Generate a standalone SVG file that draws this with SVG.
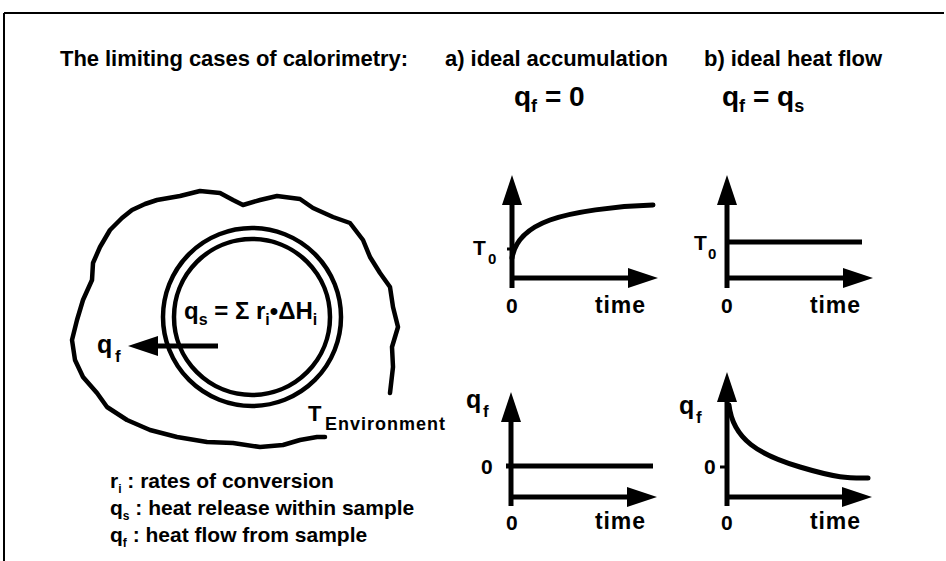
<svg xmlns="http://www.w3.org/2000/svg" width="946" height="561" viewBox="0 0 946 561">
<style>
text{font-family:"Liberation Sans",Arial,sans-serif;font-weight:bold;fill:#000}
.ax{stroke:#000;stroke-width:5;fill:none;marker-end:url(#ah)}
.crv{stroke:#000;stroke-width:5;fill:none;stroke-linecap:round}
.t22{font-size:22px}
</style>
<defs>
<marker id="ah" markerUnits="userSpaceOnUse" markerWidth="32" markerHeight="22" viewBox="0 0 32 22" refX="5" refY="11" orient="auto"><path d="M0,1 L30,11 L0,21 Z" fill="#000"/></marker>
</defs>
<rect width="946" height="561" fill="#fff"/>
<g id="frame" stroke="#000" stroke-width="2" fill="none">
<line x1="4" y1="13" x2="944" y2="13"/>
<line x1="4" y1="13" x2="4" y2="561"/>
</g>
<g id="header">
<text class="t22" x="60" y="66" textLength="348">The limiting cases of calorimetry:</text>
<text class="t22" x="445" y="66" textLength="223">a) ideal accumulation</text>
<text class="t22" x="704" y="66" textLength="178">b) ideal heat flow</text>
<text x="514" y="106" font-size="28">q<tspan dy="6" font-size="18">f</tspan><tspan dy="-6"> = 0</tspan></text>
<text x="722" y="106" font-size="28">q<tspan dy="6" font-size="18">f</tspan><tspan dy="-6"> = q</tspan><tspan dy="6" font-size="18">s</tspan></text>
</g>
<g id="sample">
<path d="M325,437 L317,437 L300,440 L283,445 L260,447 L233,443 L207,442 L177,437 L150,430 L127,420 L107,407 L97,393 L83,377 L75,360 L72,340 L77,320 L83,300 L92,280 L93,263 L100,247 L110,230 L122,218 L132,210 L145,204 L157,200 L180,196 L200,191 L220,193 L233,200 L243,205 L260,200 L277,196 L300,199 L313,208 L333,217 L350,223 L363,240 L370,257 L380,273 L390,287 L393,307 L398,327 L392,347 L393,367 L390,393" fill="none" stroke="#000" stroke-width="4.5" stroke-linejoin="round" stroke-linecap="round"/>
<circle cx="252" cy="317" r="89" fill="none" stroke="#000" stroke-width="4.5"/>
<circle cx="252" cy="317" r="78" fill="none" stroke="#000" stroke-width="4.5"/>
<text x="184" y="319" font-size="24">q<tspan dy="6" font-size="16">s</tspan><tspan dy="-6"> = Σ r</tspan><tspan dy="6" font-size="16">i</tspan><tspan dy="-6">•ΔH</tspan><tspan dy="6" font-size="16">i</tspan></text>
<text x="308" y="421" font-size="22">T</text>
<text x="325" y="430" font-size="18" textLength="120">Environment</text>
<text x="97" y="353" font-size="25">q</text>
<text x="115" y="362" font-size="17">f</text>
</g>
<g id="connectors">
<line class="ax" x1="218" y1="346" x2="153" y2="346"/>
</g>
<g id="legend">
<text x="110" y="488" font-size="21">r<tspan dy="5" font-size="12">i</tspan><tspan dy="-5"> : rates of conversion</tspan></text>
<text x="110" y="515" font-size="21">q<tspan dy="5" font-size="12">s</tspan><tspan dy="-5"> : heat release within sample</tspan></text>
<text x="110" y="542" font-size="21">q<tspan dy="5" font-size="12">f</tspan><tspan dy="-5"> : heat flow from sample</tspan></text>
</g>
<g id="plot-a">
<line class="ax" x1="512" y1="288" x2="512" y2="200"/>
<line class="ax" x1="510" y1="278" x2="633" y2="278"/>
<line x1="507" y1="249" x2="512" y2="249" stroke="#000" stroke-width="3"/>
<path class="crv" d="M512,258 C515,240 528,228 550,220 S615,206 653,205"/>
<text x="473" y="255" font-size="21">T</text>
<text x="488" y="264" font-size="15">0</text>
<text x="506" y="313" font-size="21">0</text>
<text x="595" y="313" font-size="23" textLength="50">time</text>
</g>
<g id="plot-b">
<line class="ax" x1="727" y1="288" x2="727" y2="200"/>
<line class="ax" x1="725" y1="278" x2="848" y2="278"/>
<line class="crv" x1="727" y1="242" x2="862" y2="242" style="stroke-linecap:butt"/>
<text x="694" y="250" font-size="21">T</text>
<text x="708" y="259" font-size="15">0</text>
<text x="721" y="313" font-size="21">0</text>
<text x="810" y="313" font-size="23" textLength="50">time</text>
</g>
<g id="plot-c">
<line class="ax" x1="511" y1="506" x2="511" y2="417"/>
<line class="ax" x1="509" y1="497" x2="632" y2="497"/>
<line class="crv" x1="506" y1="466" x2="653" y2="466" style="stroke-linecap:butt"/>
<text x="481" y="474" font-size="21">0</text>
<text x="466" y="408" font-size="25">q</text>
<text x="483" y="417" font-size="17">f</text>
<text x="506" y="530" font-size="21">0</text>
<text x="595" y="529" font-size="23" textLength="50">time</text>
</g>
<g id="plot-d">
<line class="ax" x1="727" y1="506" x2="727" y2="397"/>
<line class="ax" x1="725" y1="497" x2="847" y2="497"/>
<line x1="720" y1="467" x2="727" y2="467" stroke="#000" stroke-width="3"/>
<path class="crv" d="M729,405 C733,440 760,455 800,467 S850,478 868,478"/>
<text x="704" y="474" font-size="21">0</text>
<text x="679" y="414" font-size="25">q</text>
<text x="696" y="423" font-size="17">f</text>
<text x="721" y="530" font-size="21">0</text>
<text x="810" y="529" font-size="23" textLength="50">time</text>
</g>
</svg>
